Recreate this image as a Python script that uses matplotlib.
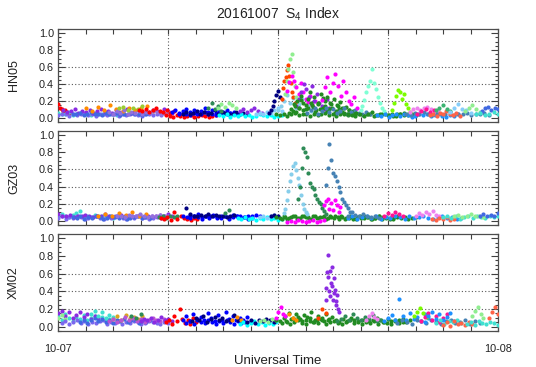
import numpy as np
import matplotlib
matplotlib.use("Agg")
from matplotlib import pyplot as plt
from matplotlib.ticker import MultipleLocator

plt.rcParams['font.family'] = ['Liberation Sans', 'DejaVu Sans']

# each track: colour, start hour (UT), end hour (UT), S4 x 100 at even cadence
hn05 = [
    ('red', 0.0, 0.6, [16, 12, 10, 8, 9, 7, 6]),
    ('turquoise', 0.0, 3.2, [6, 4, 5, 7, 3, 5, 6, 4, 5, 3, 6, 4, 5, 7, 4, 5, 3]),
    ('mediumslateblue', 0.0, 5.6, [3, 5, 4, 2, 5, 3, 4, 6, 3, 4, 2, 5, 4, 3, 5, 4, 2, 4, 3,
                                   5, 4, 3, 2, 4, 5, 3, 4, 3]),
    ('blueviolet', 0.3, 6.2, [9, 7, 8, 10, 6, 8, 7, 9, 6, 8, 10, 7, 8, 6, 9, 7, 8, 10, 6, 7,
                              9, 8, 6, 7, 9, 8, 7, 10, 8, 6]),
    ('royalblue', 0.8, 4.8, [5, 4, 6, 3, 5, 7, 4, 5, 3, 6, 4, 5, 6, 3, 4, 5, 6, 4, 5, 3, 4]),
    ('darkorange', 1.5, 5.2, [11, 8, 13, 9, 15, 10, 8, 12, 9, 11, 14, 8]),
    ('mediumpurple', 2.8, 6.0, [7, 5, 8, 6, 9, 5, 7, 6, 8, 5, 7, 6, 8, 7, 5, 6, 7]),
    ('yellowgreen', 3.3, 4.6, [11, 13, 9, 12, 10, 14]),
    ('red', 4.4, 6.3, [9, 8, 10, 7, 9, 11, 8, 7, 9, 6, 8]),
    ('red', 5.9, 8.6, [3, 2, 1, 3, 2, 1, 2, 3, 1, 2, 3, 2, 1, 2, 3]),
    ('blue', 6.2, 10.0, [7, 9, 6, 8, 10, 7, 9, 6, 8, 11, 7, 9, 6, 8, 7, 9, 6, 7, 5, 6]),
    ('blue', 6.6, 9.8, [4, 6, 5, 3, 6, 4, 5, 7, 4, 5, 3, 6, 4, 5, 6, 4, 3]),
    ('navy', 6.8, 10.3, [5, 7, 4, 6, 8, 5, 7, 4, 6, 9, 5, 7, 6, 4, 5, 7, 5, 6, 4]),
    ('seagreen', 8.2, 8.9, [12, 17, 10, 14, 8]),
    ('lightgreen', 8.7, 9.7, [11, 16, 13, 18, 15, 12]),
    ('cyan', 8.8, 12.2, [3, 2, 4, 1, 3, 2, 4, 2, 3, 1, 2, 4, 3, 2, 3, 1, 2, 3]),
    ('blueviolet', 9.9, 11.1, [8, 10, 7, 9, 11, 8, 6]),
    ('lightskyblue', 10.8, 12.2, [4, 6, 5, 7, 6, 9, 11, 8]),
    ('navy', 11.5, 12.1, [6, 9, 14, 20, 27, 32, 24]),
    ('forestgreen', 11.9, 19.5, [4, 3, 5, 2, 4, 6, 3, 5, 4, 2, 5, 3, 4, 6, 3, 4, 2, 5, 4, 3,
                                 5, 2, 4, 3, 5, 4, 2, 3, 5, 4, 3, 2, 4, 5, 3, 4, 2, 3]),
    ('skyblue', 12.0, 13.8, [9, 14, 20, 27, 17, 23, 12, 16, 22, 10, 14, 8]),
    ('orangered', 12.2, 12.9, [22, 35, 44, 48, 56, 62, 50, 41, 30, 24, 18]),
    ('lightgreen', 12.4, 13.0, [28, 44, 58, 70, 76, 54, 38, 24]),
    ('magenta', 12.5, 14.0, [32, 42, 50, 44, 36, 28, 41, 30, 22, 19, 26, 15, 20]),
    ('blueviolet', 13.0, 14.8, [14, 22, 31, 40, 34, 24, 38, 20, 28, 17, 14, 10, 22, 12]),
    ('forestgreen', 12.8, 16.2, [8, 14, 20, 12, 26, 18, 10, 22, 30, 15, 24, 9, 18, 28, 12,
                                 20, 25, 10, 16, 22, 8, 14, 19, 11, 6, 13, 9, 5, 8, 4]),
    ('forestgreen', 12.6, 16.0, [6, 10, 16, 7, 12, 21, 9, 15, 11, 18, 13, 7, 16, 10, 23, 14,
                                 8, 17, 12, 6, 15, 10, 7, 12, 5, 9, 6]),
    ('steelblue', 13.6, 17.0, [6, 9, 12, 5, 8, 11, 7, 10, 6, 8, 12, 5, 7, 9, 6, 4, 7, 5]),
    ('magenta', 14.4, 16.3, [21, 36, 48, 30, 41, 52, 38, 26, 43, 31, 20, 16, 24, 11]),
    ('forestgreen', 15.8, 19.5, [5, 3, 6, 4, 2, 5, 7, 3, 4, 6, 3, 5, 2, 4, 6, 3, 5, 4]),
    ('aquamarine', 16.5, 17.8, [9, 14, 21, 30, 37, 44, 58, 41, 34, 25, 18, 12, 8]),
    ('lawngreen', 18.2, 19.2, [9, 18, 26, 33, 30, 22, 28, 16, 11, 7]),
    ('dodgerblue', 17.4, 21.8, [3, 2, 4, 1, 3, 5, 2, 4, 3, 1, 2, 4, 3, 5, 2, 3, 4, 2, 1, 3, 2, 4]),
    ('steelblue', 19.0, 23.5, [5, 3, 6, 4, 7, 5, 3, 6, 4, 5, 7, 3, 5, 4, 6, 3, 5, 4, 6, 3]),
    ('violet', 19.2, 20.7, [7, 10, 12, 9, 11, 13, 10, 8, 9]),
    ('deeppink', 19.6, 20.5, [5, 8, 10, 7, 9]),
    ('tomato', 20.3, 21.9, [3, 5, 2, 6, 4, 8, 5, 3, 6, 2]),
    ('mediumseagreen', 20.6, 21.4, [9, 12, 15, 10, 8]),
    ('lightskyblue', 21.4, 22.5, [7, 12, 16, 10, 9, 6]),
    ('lightgreen', 22.2, 23.0, [8, 12, 15, 10, 7]),
    ('royalblue', 23.1, 24.0, [8, 11, 13, 9, 12, 10]),
    ('turquoise', 22.8, 24.0, [4, 6, 3, 5, 7, 4]),
]

gz03 = [
    ('turquoise', 0.0, 3.2, [6, 8, 5, 4, 7, 9, 11, 6, 5, 4, 7, 5, 6, 4, 5, 3, 6]),
    ('mediumslateblue', 0.0, 5.8, [3, 5, 2, 4, 3, 5, 4, 2, 3, 4, 5, 3, 2, 4, 3, 5, 4, 3, 2,
                                   4, 3, 5, 3, 4, 2, 3, 4, 3, 5]),
    ('blueviolet', 0.0, 6.2, [8, 6, 5, 7, 4, 6, 5, 7, 6, 4, 5, 6, 8, 5, 4, 6, 7, 5, 4, 6,
                              5, 7, 4, 6, 5, 6, 7, 5, 8, 6]),
    ('royalblue', 0.8, 5.0, [4, 3, 5, 2, 4, 3, 5, 4, 2, 3, 5, 4, 3, 4, 2, 3, 4, 5, 3, 4, 3]),
    ('darkorange', 2.2, 4.8, [6, 8, 5, 9, 7, 10, 6, 8]),
    ('mediumpurple', 3.2, 6.0, [5, 6, 4, 7, 5, 6, 8, 5, 4, 6, 5, 7, 5, 6]),
    ('seagreen', 5.5, 6.5, [4, 6, 3, 5, 4, 6]),
    ('red', 5.6, 7.6, [3, 2, 4, 1, 10, 2, 5, 3, 2, 1, 3, 2]),
    ('blue', 6.8, 11.0, [6, 4, 7, 5, 8, 4, 6, 5, 7, 3, 6, 5, 4, 7, 5, 6, 4, 5, 6, 7, 5]),
    ('blue', 7.2, 10.6, [3, 5, 4, 2, 5, 3, 6, 4, 3, 5, 2, 4, 5, 3, 4, 2, 3]),
    ('navy', 7.0, 9.6, [15, 8, 6, 5, 7, 6, 8, 5, 7, 6, 5, 4, 6, 7]),
    ('seagreen', 9.1, 9.3, [9, 12]),
    ('cyan', 9.8, 12.2, [3, 2, 4, 2, 3, 1, 3, 2, 4, 2, 3, 1, 2]),
    ('lightskyblue', 11.0, 12.0, [4, 6, 3, 5, 7, 4]),
    ('navy', 11.6, 12.0, [5, 7, 6]),
    ('forestgreen', 11.9, 19.5, [4, 3, 5, 2, 4, 6, 3, 5, 4, 2, 5, 3, 4, 6, 3, 4, 5, 2, 4, 3,
                                 5, 2, 4, 3, 5, 4, 2, 3, 5, 4, 3, 2, 4, 5, 3, 4, 2, 3, 4]),
    ('forestgreen', 12.2, 18.5, [2, 4, 3, 5, 2, 3, 6, 4, 2, 5, 3, 4, 2, 6, 3, 4, 5, 2, 3, 4,
                                 2, 5, 3, 4, 2, 3, 5, 2, 4, 3, 2, 4]),
    ('magenta', 12.5, 14.5, [-1, 0, -1, 1, 0, -1, 0, 1, -1, 0, 1]),
    ('skyblue', 12.3, 13.6, [9, 14, 24, 35, 46, 55, 64, 68, 59, 50, 42, 30, 20, 14, 10, 8]),
    ('seagreen', 13.1, 14.6, [26, 40, 62, 85, 81, 74, 56, 44, 40, 37, 30, 26, 22, 19, 15, 11, 8]),
    ('magenta', 14.5, 15.4, [18, 23, 26, 14, 21, 12, 24, 18, 10, 16]),
    ('steelblue', 14.6, 15.9, [42, 62, 90, 71, 56, 52, 46, 40, 34, 26, 22, 18, 15, 10]),
    ('dodgerblue', 15.8, 22.0, [3, 5, 2, 4, 6, 3, 5, 2, 4, 3, 6, 4, 2, 5, 3, 4, 6, 3, 2, 4,
                                5, 3, 4, 2, 3]),
    ('steelblue', 15.8, 17.5, [6, 10, 7, 5, 8, 6, 4, 5, 3]),
    ('deeppink', 17.8, 18.8, [6, 9, 7, 10, 8, 5]),
    ('violet', 19.5, 20.8, [6, 9, 7, 10, 8, 11, 7, 5]),
    ('tomato', 20.4, 21.6, [2, 1, 3, 2, 4, 1, 2]),
    ('turquoise', 21.0, 24.0, [4, 6, 3, 5, 2, 4, 6, 3, 5, 4, 3, 6, 4, 5]),
    ('lightgreen', 21.6, 23.2, [5, 7, 4, 6, 8, 5, 6, 4]),
    ('royalblue', 23.0, 24.0, [6, 8, 5, 7, 6, 9]),
]

xm02 = [
    ('turquoise', 0.0, 3.2, [12, 8, 14, 10, 6, 11, 9, 13, 7, 10, 12, 8, 11, 6, 9, 10, 7]),
    ('blueviolet', 0.0, 2.2, [15, 18, 12, 16, 10, 13, 17, 11, 14, 9, 12, 10]),
    ('lightgreen', 0.0, 0.4, [10, 13, 9]),
    ('mediumslateblue', 0.2, 6.0, [4, 6, 3, 5, 7, 4, 6, 3, 5, 4, 6, 7, 3, 5, 4, 6, 3, 5, 4,
                                   6, 5, 3, 4, 6, 5, 4, 3, 5, 4]),
    ('royalblue', 1.2, 5.0, [5, 8, 4, 7, 10, 6, 9, 5, 8, 4, 7, 6, 9, 5, 7, 8, 4, 6, 5, 7]),
    ('turquoise', 1.8, 3.0, [14, 18, 12, 16, 10, 13, 11]),
    ('goldenrod', 3.0, 4.6, [9, 12, 8, 13, 10, 11, 9, 12]),
    ('mediumorchid', 2.8, 5.8, [6, 9, 5, 8, 11, 7, 10, 6, 9, 5, 8, 10, 7, 6, 9]),
    ('blueviolet', 4.5, 6.2, [6, 9, 7, 10, 5, 8, 11, 7, 9, 6]),
    ('seagreen', 4.0, 4.5, [12, 10, 14]),
    ('red', 5.9, 7.5, [5, 8, 3, 12, 6, 20, 9, 4, 7, 3, 10, 5]),
    ('blue', 6.8, 10.5, [8, 12, 6, 14, 9, 11, 7, 15, 10, 6, 13, 8, 16, 9, 12, 7, 10, 8, 11, 6]),
    ('blue', 7.0, 10.2, [4, 6, 3, 7, 5, 4, 8, 5, 3, 6, 4, 7, 5, 3, 6, 4, 5]),
    ('navy', 7.3, 9.8, [6, 10, 8, 12, 5, 9, 11, 7, 10, 6, 8, 13, 7]),
    ('darkorange', 9.5, 10.0, [8, 11, 7]),
    ('cyan', 9.9, 11.9, [3, 5, 2, 4, 6, 3, 5, 2, 4, 3, 5]),
    ('navy', 10.3, 11.8, [5, 7, 4, 8, 6, 9, 7, 5]),
    ('lightgreen', 11.0, 11.9, [6, 8, 5, 9, 7]),
    ('forestgreen', 11.9, 19.2, [8, 6, 10, 5, 9, 7, 11, 6, 8, 10, 5, 7, 9, 6, 8, 11, 7, 5, 9,
                                 6, 10, 8, 5, 7, 9, 6, 8, 10, 7, 5, 9, 6, 8, 7, 9, 5, 7]),
    ('forestgreen', 12.2, 18.8, [4, 6, 3, 5, 7, 4, 3, 6, 5, 4, 7, 3, 5, 6, 4, 3, 5, 7, 4, 6,
                                 3, 5, 4, 6, 3, 5, 4, 3, 6, 4, 5]),
    ('forestgreen', 12.4, 14.8, [12, 15, 10, 14, 9, 13, 11, 16, 8, 12, 10, 14, 9]),
    ('magenta', 11.9, 12.4, [10, 16, 22, 14, 12]),
    ('darkorange', 12.6, 13.0, [14, 10, 8]),
    ('orangered', 14.2, 14.6, [10, 20, 15]),
    ('blueviolet', 14.6, 15.3, [30, 44, 62, 81, 56, 40, 35, 63, 50, 68, 46, 30, 38, 55, 41,
                                29, 24, 36, 20, 16]),
    ('seagreen', 15.2, 17.6, [6, 9, 12, 8, 14, 10, 7, 11, 9, 13, 6, 8]),
    ('violet', 16.8, 17.4, [8, 12, 15, 11, 9]),
    ('dodgerblue', 17.8, 20.2, [6, 10, 13, 8, 31, 12, 7, 15, 9, 11, 6, 14, 10]),
    ('steelblue', 18.5, 23.0, [4, 7, 5, 3, 8, 6, 4, 7, 5, 3, 6, 8, 4, 5, 7, 3, 6, 4]),
    ('lawngreen', 19.4, 20.1, [12, 17, 21, 15, 11]),
    ('deeppink', 19.8, 21.2, [6, 11, 15, 8, 12, 5, 10, 14]),
    ('dodgerblue', 20.0, 21.6, [5, 12, 17, 9, 14, 7, 11, 15, 6]),
    ('turquoise', 20.6, 22.0, [4, 7, 3, 6, 5, 8, 4]),
    ('tomato', 21.0, 22.6, [2, 5, 1, 6, 3, 4, 2, 5, 3]),
    ('lightgreen', 22.6, 23.2, [12, 18, 22, 14, 10]),
    ('turquoise', 22.3, 24.0, [3, 5, 2, 6, 4, 3, 5, 4, 2]),
    ('tomato', 23.5, 24.0, [10, 16, 22, 14]),
]

stations = ['HN05', 'GZ03', 'XM02']
panels = [hn05, gz03, xm02]
# axes boxes in pixels: left, top, right, bottom
boxes = [(58, 29, 498, 122), (58, 131, 498, 225), (58, 234, 498, 331)]

W, H = 536, 367
fig = plt.figure(figsize=(W/100, H/100), dpi=100)
txt = '#222222'

for i, (name, tracks, box) in enumerate(zip(stations, panels, boxes)):
    x0, y0, x1, y1 = box
    ax = fig.add_axes([x0/W, 1 - y1/H, (x1 - x0)/W, (y1 - y0)/H])
    for color, t0, t1, vals in tracks:
        t = np.linspace(t0, t1, len(vals))
        ax.plot(t, np.array(vals)/100., 'o', color=color, ms=3.0, mew=0, zorder=3)
    for xv in (6, 12, 18):
        ax.axvline(xv, ls=(0, (1, 2)), lw=0.8, color='0.35', zorder=1)
    for yv in (0.2, 0.4, 0.6):
        ax.axhline(yv, ls=(0, (1, 2)), lw=0.8, color='0.35', zorder=1)
    ax.set_xlim(0, 24)
    ax.set_ylim(-0.05, 1.05)
    ax.set_xticks(np.arange(0, 24.01, 1.5))
    ax.yaxis.set_minor_locator(MultipleLocator(0.05))
    ax.set_yticks(np.arange(0, 1.01, 0.2))
    ax.set_yticklabels(['%.1f' % v for v in np.arange(0, 1.01, 0.2)])
    ax.tick_params(which='both', direction='in', top=True, right=True,
                   colors='0.25', labelcolor=txt, width=0.8, labelsize=7.8)
    ax.tick_params(axis='y', which='major', length=5, pad=3)
    ax.tick_params(axis='y', which='minor', length=2.5)
    ax.tick_params(axis='x', which='major', length=3.5, pad=9)
    if i == 2:
        labels = [''] * 17
        labels[0], labels[-1] = '10-07', '10-08'
        ax.set_xticklabels(labels)
        ax.set_xlabel('Universal Time', fontsize=9.5, color=txt, labelpad=1)
    else:
        ax.set_xticklabels([])
    ax.set_ylabel(name, fontsize=9, color=txt)
    ax.yaxis.set_label_coords(-0.086, 0.5)
    for s in ax.spines.values():
        s.set_color('0.3')
        s.set_linewidth(0.9)

fig.text(278/W, 1 - 14/H, r'20161007  S$_\mathregular{4}$ Index', ha='center', va='center',
         fontsize=10, color=txt)

fig.savefig('out.png', dpi=100)
